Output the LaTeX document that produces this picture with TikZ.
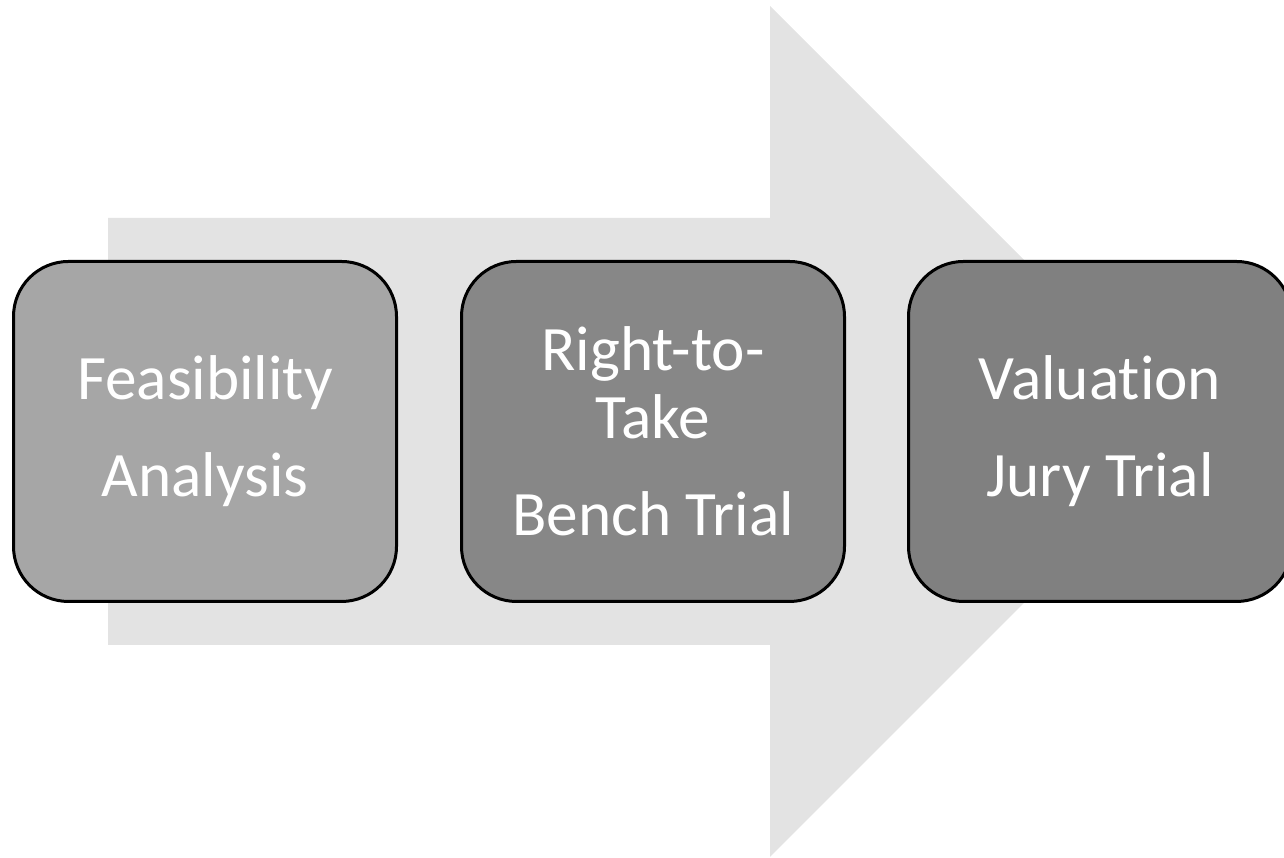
\documentclass[tikz,border=0pt]{standalone}
\usepackage{fontspec}
\setmainfont{Carlito}[Ligatures=NoCommon]
\usepackage{tikz}
\usetikzlibrary{positioning}
\colorlet{arrowgray}{black!11}
\colorlet{stepone}{black!35}
\colorlet{steptwo}{black!47}
\colorlet{stepthree}{black!50}
\tikzset{
	stagebox/.style={draw=black,line width=0.03cm,rounded corners=0.55cm,
		minimum width=3.83cm,minimum height=3.40cm,align=center,text=white,
		font=\fontsize{18}{19.4}\selectfont,inner sep=0}
}

\begin{document}
\begin{tikzpicture}
	
	\def\W{12.84}     % picture width
	\def\Hp{8.58}     % picture height
	\def\m{4.265}     % arrow axis
	\def\s{2.135}     % half shaft width
	\def\h{4.255}     % half head width
	\def\xs{1.08}     % shaft start
	\def\xh{7.70}     % head start
	\useasboundingbox (0,0) rectangle (\W,\Hp);
	
	% ARROW
	\fill[arrowgray] (\xs,\m-\s) -- (\xs,\m+\s) -- (\xh,\m+\s) -- (\xh,\m+\h)
	-- (\xh+\h,\m) -- (\xh,\m-\h) -- (\xh,\m-\s) -- cycle;
	
	% STAGES
	\node[stagebox,fill=stepone] (feas) at (2.05,\m) {Feasibility\\[0.29cm]Analysis};
	\node[stagebox,fill=steptwo,right=0.62cm of feas] (bench) {Right-to-\\Take\\[0.29cm]Bench Trial};
	\node[stagebox,fill=stepthree,right=0.61cm of bench] (jury) {Valuation\\[0.29cm]Jury Trial};
	
\end{tikzpicture}
\end{document}
